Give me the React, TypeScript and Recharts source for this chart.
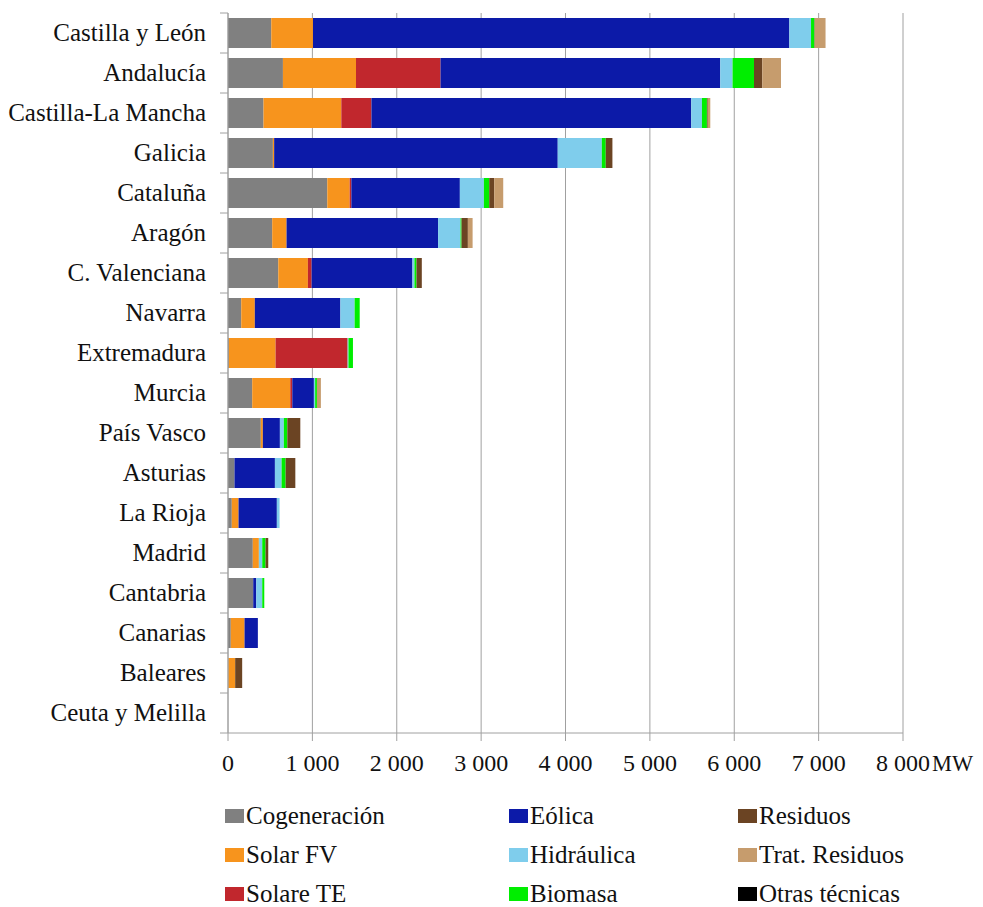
import { Bar, BarChart, CartesianGrid, XAxis, YAxis } from "recharts";

const regions = [
  "Castilla y León",
  "Andalucía",
  "Castilla-La Mancha",
  "Galicia",
  "Cataluña",
  "Aragón",
  "C. Valenciana",
  "Navarra",
  "Extremadura",
  "Murcia",
  "País Vasco",
  "Asturias",
  "La Rioja",
  "Madrid",
  "Cantabria",
  "Canarias",
  "Baleares",
  "Ceuta y Melilla",
];

// MW por tecnología, mismo orden que regions
const cogeneracion = [513, 651, 421, 532, 1177, 524, 596, 157, 10, 287, 389, 77, 45, 294, 299, 33, 5, 0];
const solarFV = [494, 866, 922, 15, 265, 170, 351, 161, 554, 451, 24, 0, 80, 72, 0, 163, 80, 0];
const solarTE = [0, 1002, 357, 0, 20, 0, 44, 0, 854, 24, 0, 0, 0, 0, 0, 0, 0, 0];
const eolica = [5646, 3315, 3790, 3361, 1286, 1796, 1195, 1014, 0, 256, 202, 479, 454, 0, 36, 158, 0, 0];
const hidraulica = [257, 146, 127, 522, 285, 266, 24, 169, 10, 15, 47, 79, 32, 40, 71, 0, 0, 0];
const biomasa = [40, 254, 59, 47, 63, 12, 24, 60, 53, 21, 41, 48, 0, 39, 24, 0, 0, 0];
const residuos = [5, 98, 10, 79, 59, 75, 63, 0, 0, 0, 154, 115, 0, 32, 0, 0, 83, 0];
const tratResiduos = [127, 222, 30, 0, 107, 56, 0, 0, 0, 47, 0, 0, 0, 0, 0, 0, 0, 0];
const otras = [0, 0, 0, 0, 0, 0, 0, 0, 0, 0, 0, 0, 0, 0, 0, 0, 0, 0];

const xTicks = [0, 1000, 2000, 3000, 4000, 5000, 6000, 7000, 8000];

const series = [
  { key: "cog", name: "Cogeneración", color: "#808080", values: cogeneracion },
  { key: "fv", name: "Solar FV", color: "#f7941d", values: solarFV },
  { key: "te", name: "Solare TE", color: "#c1272d", values: solarTE },
  { key: "eol", name: "Eólica", color: "#0c1aa8", values: eolica },
  { key: "hid", name: "Hidráulica", color: "#7fcdec", values: hidraulica },
  { key: "bio", name: "Biomasa", color: "#00ee00", values: biomasa },
  { key: "res", name: "Residuos", color: "#6b4423", values: residuos },
  { key: "trat", name: "Trat. Residuos", color: "#c69c6d", values: tratResiduos },
  { key: "otras", name: "Otras técnicas", color: "#000000", values: otras },
];

const data = regions.map((region, i) => {
  const row: Record<string, string | number> = { region };
  series.forEach((s) => {
    row[s.key] = s.values[i];
  });
  return row;
});

const FONT = "'Liberation Serif', 'Times New Roman', serif";
const AXIS_GRAY = "#a0a0a0";
const AXIS_LEFT = 220;
const BAND = 40;

const fmt = (v: number) => (v >= 1000 ? `${Math.floor(v / 1000)} ${String(v % 1000).padStart(3, "0")}` : String(v));

function RegionTick(props: any) {
  const { y, payload, index } = props;
  return (
    <g>
      {index === 0 && (
        <line x1={AXIS_LEFT - 8} x2={AXIS_LEFT} y1={y - BAND / 2} y2={y - BAND / 2} stroke={AXIS_GRAY} />
      )}
      <line x1={AXIS_LEFT - 8} x2={AXIS_LEFT} y1={y + BAND / 2} y2={y + BAND / 2} stroke={AXIS_GRAY} />
      <text x={AXIS_LEFT - 22} y={y + 8} textAnchor="end" fontFamily={FONT} fontSize={25} fill="#111">
        {payload.value}
      </text>
    </g>
  );
}

function ValueTick(props: any) {
  const { x, y, payload } = props;
  const last = payload.value === 8000;
  return (
    <g>
      <text x={x} y={y + 28} textAnchor="middle" fontFamily={FONT} fontSize={24} fill="#111">
        {fmt(payload.value)}
      </text>
      {last && (
        <text
          x={x + 29}
          y={y + 28}
          textAnchor="start"
          fontFamily={FONT}
          fontSize={24}
          fill="#111"
          textLength={41}
          lengthAdjust="spacingAndGlyphs"
        >
          MW
        </text>
      )}
    </g>
  );
}

export default function App() {
  return (
    <div style={{ position: "relative", width: 967, height: 899, background: "#fff" }}>
      <style>{"html { overflow: hidden; }"}</style>
      <BarChart
        width={967}
        height={780}
        data={data}
        layout="vertical"
        margin={{ top: 5, right: 72, bottom: 5, left: 0 }}
        barCategoryGap={5}
      >
        <CartesianGrid horizontal={false} stroke={AXIS_GRAY} />
        <XAxis
          type="number"
          domain={[0, 8000]}
          ticks={xTicks}
          interval={0}
          height={50}
          stroke={AXIS_GRAY}
          tickSize={8}
          tick={<ValueTick />}
        />
        <YAxis
          type="category"
          dataKey="region"
          width={AXIS_LEFT}
          interval={0}
          tickLine={false}
          stroke={AXIS_GRAY}
          tick={<RegionTick />}
        />
        {series.map((s) => (
          <Bar key={s.key} dataKey={s.key} name={s.name} stackId="mw" fill={s.color} isAnimationActive={false} />
        ))}
      </BarChart>
      <div
        style={{
          position: "absolute",
          top: 788,
          left: 217,
          display: "grid",
          gridAutoFlow: "column",
          gridTemplateRows: "repeat(3, 39px)",
          gridTemplateColumns: "284px 229px 236px",
          fontFamily: FONT,
          fontSize: 25,
          color: "#111",
        }}
      >
        {series.map((s) => (
          <div key={s.key} style={{ display: "flex", alignItems: "center" }}>
            <span style={{ display: "inline-block", width: 19, height: 14, background: s.color, marginRight: 2 }} />
            <span style={{ lineHeight: "26px" }}>{s.name}</span>
          </div>
        ))}
      </div>
    </div>
  );
}
